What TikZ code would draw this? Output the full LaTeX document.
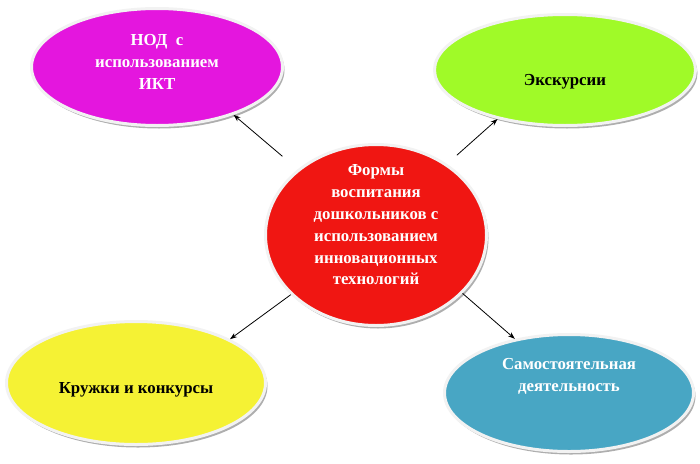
\documentclass[tikz,border=0pt]{standalone}
\usepackage{fontspec}
\setmainfont{Liberation Serif}
\usetikzlibrary{shapes.geometric,shadows,arrows.meta}
\definecolor{nodpink}{RGB}{228,22,222}
\definecolor{tripgreen}{RGB}{160,250,40}
\definecolor{centrered}{RGB}{240,22,18}
\definecolor{clubyellow}{RGB}{245,242,52}
\definecolor{selfblue}{RGB}{72,166,196}

\begin{document}
\begin{tikzpicture}[x=1pt,y=-1pt,
  form/.style={ellipse, inner sep=0pt, draw=white!90!gray, line width=3pt,
    drop shadow={shadow xshift=2pt, shadow yshift=-3pt, fill=black!45, opacity=.7}},
  formtext/.style={align=center, font=\fontsize{16.8}{21.8}\selectfont\bfseries},
  link/.style={-{Stealth[length=7pt,width=5pt]}, line width=0.8pt}]
\useasboundingbox (0,0) rectangle (700,463);
%\draw [gray] (0,0) rectangle (700,463);
\node [form, fill=centrered, minimum width=221pt, minimum height=181pt,
  label={[formtext, text=white, yshift=10pt]center:Формы\\воспитания\\дошкольников с\\использованием\\инновационных\\технологий}] (forms) at (376,235) {};
\node [form, fill=nodpink, minimum width=251pt, minimum height=117pt,
  label={[formtext, text=white, yshift=5pt]center:НОД~ с\\использованием\\ИКТ}] (nod) at (157,67) {};
\node [form, fill=tripgreen, minimum width=261pt, minimum height=111pt,
  label={[formtext, yshift=-12pt]center:Экскурсии}] (trips) at (565,70) {};
\node [form, fill=clubyellow, minimum width=259pt, minimum height=123pt,
  label={[formtext, yshift=-7pt]center:Кружки и конкурсы}] (clubs) at (136,383) {};
\node [form, fill=selfblue, minimum width=249pt, minimum height=117pt,
  label={[formtext, text=white, yshift=17pt]center:Самостоятельная\\деятельность}] (self) at (569,393) {};
% arrows from the centre
\draw [link, shorten <=20pt] (forms.140) -- (nod.-32);
\draw [link, shorten <=13pt] (forms.45) -- (trips.-144);
\draw [link] (forms.-145) -- (clubs.25);
\draw [link] (forms.-34) -- (self.135);
\end{tikzpicture}
\end{document}
